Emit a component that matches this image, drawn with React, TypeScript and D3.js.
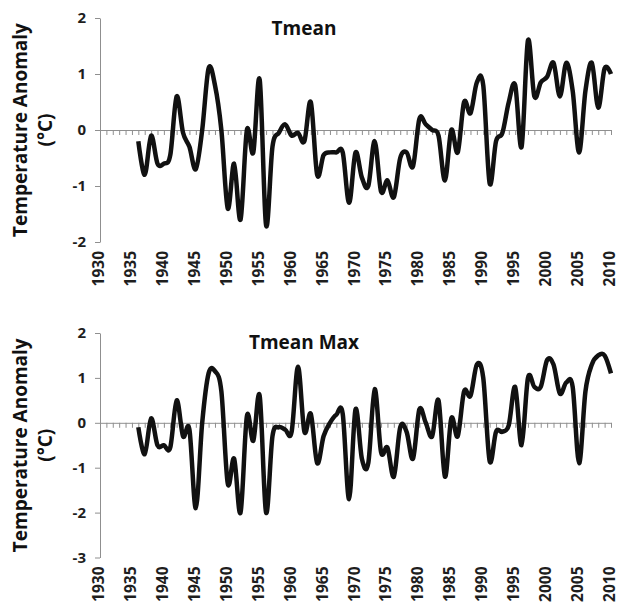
import React, { useRef, useEffect } from "react";
import * as d3 from "d3";

// years of the series
const years = [
  1936, 1937, 1938, 1939, 1940, 1941, 1942, 1943, 1944, 1945,
  1946, 1947, 1948, 1949, 1950, 1951, 1952, 1953, 1954, 1955,
  1956, 1957, 1958, 1959, 1960, 1961, 1962, 1963, 1964, 1965,
  1966, 1967, 1968, 1969, 1970, 1971, 1972, 1973, 1974, 1975,
  1976, 1977, 1978, 1979, 1980, 1981, 1982, 1983, 1984, 1985,
  1986, 1987, 1988, 1989, 1990, 1991, 1992, 1993, 1994, 1995,
  1996, 1997, 1998, 1999, 2000, 2001, 2002, 2003, 2004, 2005,
  2006, 2007, 2008, 2009, 2010,
];

// Tmean anomaly (°C)
const tmean = [
  -0.2, -0.8, -0.1, -0.6, -0.6, -0.45, 0.6, -0.05, -0.3, -0.7,
  0.0, 1.1, 0.8, 0.0, -1.4, -0.6, -1.6, 0.0, -0.4, 0.9,
  -1.7, -0.3, -0.05, 0.1, -0.1, -0.05, -0.2, 0.5, -0.8, -0.45,
  -0.4, -0.4, -0.4, -1.3, -0.4, -0.85, -1.0, -0.2, -1.1, -0.9,
  -1.2, -0.5, -0.4, -0.65, 0.2, 0.1, 0.0, -0.1, -0.9, 0.0,
  -0.4, 0.5, 0.3, 0.85, 0.8, -0.95, -0.2, -0.05, 0.5, 0.8,
  -0.3, 1.6, 0.6, 0.85, 0.95, 1.2, 0.6, 1.2, 0.7, -0.4,
  0.7, 1.2, 0.4, 1.1, 1.0,
];

// Tmean Max anomaly (°C)
const tmeanMax = [
  -0.1, -0.7, 0.1, -0.5, -0.5, -0.55, 0.5, -0.3, -0.15, -1.9,
  0.0, 1.1, 1.15, 0.7, -1.35, -0.8, -2.0, 0.15, -0.4, 0.6,
  -2.0, -0.3, -0.1, -0.15, -0.2, 1.25, -0.2, 0.2, -0.9, -0.3,
  0.0, 0.18, 0.2, -1.7, 0.3, -0.8, -0.9, 0.75, -0.65, -0.55,
  -1.2, -0.1, -0.2, -0.8, 0.3, 0.0, -0.3, 0.5, -1.2, 0.1,
  -0.3, 0.7, 0.6, 1.3, 1.0, -0.85, -0.2, -0.2, -0.05, 0.8,
  -0.5, 1.0, 0.8, 0.8, 1.4, 1.3, 0.65, 0.9, 0.8, -0.9,
  0.7, 1.3, 1.5, 1.5, 1.1,
];

const xTickLabels = ["1930", "1935", "1940", "1945", "1950", "1955", "1960", "1965",
  "1970", "1975", "1980", "1985", "1990", "1995", "2000", "2005", "2010"];
const yTicksTop = [2, 1, 0, -1, -2];
const yTicksBottom = [2, 1, 0, -1, -2, -3];

const FONT = "'Open Sans', 'Liberation Sans', sans-serif";
const AXIS_GREY = "#8f8f8f";

function drawPanel(svg, values, yTicks, title, top, bottom, titleY) {
  const x = d3.scaleLinear().domain([1930, 2010]).range([100, 611]);
  const y = d3.scaleLinear().domain([d3.min(yTicks), d3.max(yTicks)]).range([bottom, top]);

  const g = svg.append("g");

  // eje vertical
  const left = g.append("g")
    .attr("transform", `translate(${x(1930)},0)`)
    .call(d3.axisLeft(y).tickValues(yTicks).tickSize(5).tickSizeOuter(0).tickFormat((d) => String(d)));
  left.select(".domain").attr("stroke", AXIS_GREY);
  left.selectAll(".tick line").attr("stroke", AXIS_GREY);
  left.selectAll(".tick text")
    .attr("x", -14)
    .attr("fill", "#1e1e1e")
    .style("font-family", FONT)
    .style("font-size", "15px")
    .style("font-weight", "bold");

  // línea del cero con marcas anuales
  const zero = g.append("g")
    .attr("transform", `translate(0,${y(0)})`)
    .call(d3.axisBottom(x).tickValues(d3.range(1930, 2011)).tickSize(5).tickSizeOuter(0).tickFormat(() => ""));
  zero.select(".domain").attr("stroke", AXIS_GREY);
  zero.selectAll(".tick line").attr("stroke", AXIS_GREY);

  // etiquetas de años
  g.selectAll(".year")
    .data(xTickLabels)
    .enter()
    .append("text")
    .attr("class", "year")
    .attr("transform", (d) => `translate(${x(+d) + 4},${bottom + 9}) rotate(-90)`)
    .attr("text-anchor", "end")
    .attr("fill", "#1e1e1e")
    .style("font-family", FONT)
    .style("font-size", "15.5px")
    .style("font-weight", "bold")
    .text((d) => d);

  // serie
  const line = d3.line()
    .x((d, i) => x(years[i]))
    .y((d) => y(d))
    .curve(d3.curveCatmullRom.alpha(0));

  g.append("path")
    .datum(values)
    .attr("fill", "none")
    .attr("stroke", "#111")
    .attr("stroke-width", 4.5)
    .attr("stroke-linejoin", "round")
    .attr("d", line);

  // título del panel
  g.append("text")
    .attr("x", 304)
    .attr("y", titleY)
    .attr("text-anchor", "middle")
    .attr("fill", "#111")
    .style("font-family", FONT)
    .style("font-size", "19px")
    .style("font-weight", "bold")
    .text(title);

  // título del eje y
  const cy = (top + bottom) / 2;
  const yTitle = g.append("text")
    .attr("transform", `translate(0,${cy}) rotate(-90)`)
    .attr("text-anchor", "middle")
    .attr("fill", "#111")
    .style("font-family", FONT)
    .style("font-size", "19px")
    .style("font-weight", "bold");
  yTitle.append("tspan").attr("x", 0).attr("y", 27).text("Temperature Anomaly");
  yTitle.append("tspan").attr("x", 0).attr("y", 52).text("(°C)");
}

export default function App() {
  const svgRef = useRef(null);

  useEffect(() => {
    const svg = d3.select(svgRef.current);
    svg.selectAll("*").remove();
    drawPanel(svg, tmean, yTicksTop, "Tmean", 18, 242, 35);
    drawPanel(svg, tmeanMax, yTicksBottom, "Tmean Max", 333, 557.5, 349);
  }, []);

  return (
    <svg
      ref={svgRef}
      width={620}
      height={602}
      style={{ position: "absolute", left: 0, top: 0, background: "#fff" }}
    />
  );
}
